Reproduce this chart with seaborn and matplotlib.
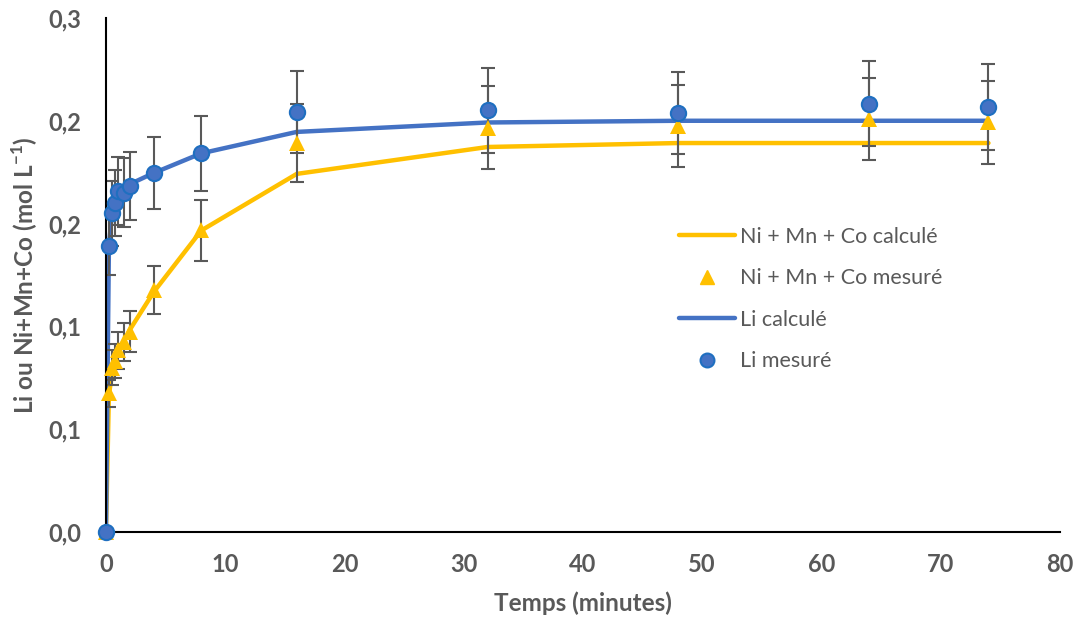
import numpy as np
import pandas as pd
import seaborn as sns
import matplotlib.pyplot as plt
from matplotlib.lines import Line2D
from matplotlib.ticker import FuncFormatter

# temps de prelevement (minutes)
temps = [0, 0.25, 0.5, 0.75, 1, 1.5, 2, 4, 8, 16, 32, 48, 64, 74]

# Li
li_mesure = [0, 0.167, 0.186, 0.192, 0.199, 0.198, 0.202, 0.2095, 0.221, 0.245, 0.246, 0.2445, 0.250, 0.248]
li_erreur = [0, 0.017, 0.019, 0.019, 0.020, 0.020, 0.020, 0.021, 0.022, 0.024, 0.025, 0.024, 0.025, 0.025]
li_calcule = [0, 0.167, 0.186, 0.193, 0.198, 0.201, 0.203, 0.2095, 0.221, 0.2335, 0.239, 0.240, 0.240, 0.240]

# Ni + Mn + Co
nmc_mesure = [0, 0.081, 0.096, 0.100, 0.106, 0.111, 0.117, 0.141, 0.176, 0.227, 0.236, 0.237, 0.241, 0.239]
nmc_erreur = [0, 0.008, 0.010, 0.010, 0.011, 0.011, 0.012, 0.014, 0.018, 0.023, 0.024, 0.024, 0.024, 0.024]
nmc_calcule = [0, 0.080, 0.092, 0.099, 0.105, 0.111, 0.118, 0.140, 0.176, 0.209, 0.2247, 0.227, 0.227, 0.227]

x_ticks = [0, 10, 20, 30, 40, 50, 60, 70, 80]
y_ticks = [0, 0.06, 0.12, 0.18, 0.24, 0.30]

jaune = "#FFC000"
bleu = "#4472C4"
bord_bleu = "#1F6FC0"
gris = "#595959"

df = pd.DataFrame({
    "temps": temps,
    "li_mes": li_mesure, "li_err": li_erreur, "li_calc": li_calcule,
    "nmc_mes": nmc_mesure, "nmc_err": nmc_erreur, "nmc_calc": nmc_calcule,
})

sns.set_style("white")
plt.rcParams['font.family'] = ['Lato', 'DejaVu Sans']
plt.rcParams['font.weight'] = 'bold'
plt.rcParams['mathtext.fontset'] = 'custom'
plt.rcParams['mathtext.rm'] = 'Lato:bold'
plt.rcParams['mathtext.bf'] = 'Lato:bold'

fig = plt.figure(figsize=(10.81, 6.19), dpi=100)
ax = fig.add_axes([0.098, 0.1405, 0.8826, 0.8305])

# error bars first (behind markers)
ax.errorbar(df.temps, df.nmc_mes, yerr=df.nmc_err, fmt="none", ecolor=gris,
            elinewidth=1.5, capsize=5, capthick=1.5, zorder=2.5)
ax.errorbar(df.temps, df.li_mes, yerr=df.li_err, fmt="none", ecolor=gris,
            elinewidth=1.5, capsize=5, capthick=1.5, zorder=2.5)

sns.lineplot(data=df, x="temps", y="nmc_calc", color=jaune, linewidth=3.2, ax=ax, zorder=2)
sns.lineplot(data=df, x="temps", y="li_calc", color=bleu, linewidth=3.2, ax=ax, zorder=2)

ax.plot(df.temps, df.nmc_mes, linestyle="none", marker="^", markersize=11,
        color=jaune, markeredgewidth=0, zorder=3, clip_on=False)
ax.plot(df.temps, df.li_mes, linestyle="none", marker="o", markersize=11,
        markerfacecolor=bleu, markeredgecolor=bord_bleu, markeredgewidth=1.5,
        zorder=4, clip_on=False)

ax.set_xlim(0, 80)
ax.set_ylim(0, 0.3)
ax.set_xticks(x_ticks)
ax.set_yticks(y_ticks)
ax.yaxis.set_major_formatter(FuncFormatter(lambda v, p: f"{v:.1f}".replace(".", ",")))

for s in ["top", "right"]:
    ax.spines[s].set_visible(False)
for s in ["left", "bottom"]:
    ax.spines[s].set_color("black")
    ax.spines[s].set_linewidth(1.5)

ax.tick_params(axis="both", direction="out", length=6, width=1.2, color="black",
               labelsize=17, labelcolor=gris)
ax.tick_params(axis="y", pad=12)
ax.tick_params(axis="x", pad=9)

ax.set_xlabel("Temps (minutes)", fontsize=17.5, fontweight="bold", color=gris, labelpad=11)
ax.set_ylabel(r"Li ou Ni+Mn+Co (mol L$^{-1}$)", fontsize=17.5, fontweight="bold",
              color=gris, labelpad=6)

handles = [
    Line2D([], [], color=jaune, linewidth=3.2),
    Line2D([], [], linestyle="none", marker="^", markersize=10, color=jaune),
    Line2D([], [], color=bleu, linewidth=3.2),
    Line2D([], [], linestyle="none", marker="o", markersize=10,
           markerfacecolor=bleu, markeredgecolor=bord_bleu, markeredgewidth=1.5),
]
labels = ["Ni + Mn + Co calculé", "Ni + Mn + Co mesuré", "Li calculé", "Li mesuré"]
leg = ax.legend(handles, labels, loc="upper left", bbox_to_anchor=(0.58, 0.632),
                frameon=False, prop={"size": 15.5, "weight": "normal"},
                labelspacing=1.0, handlelength=2.6, handletextpad=0.25)
for t in leg.get_texts():
    t.set_color(gris)

fig.savefig("out.png", dpi=100)
